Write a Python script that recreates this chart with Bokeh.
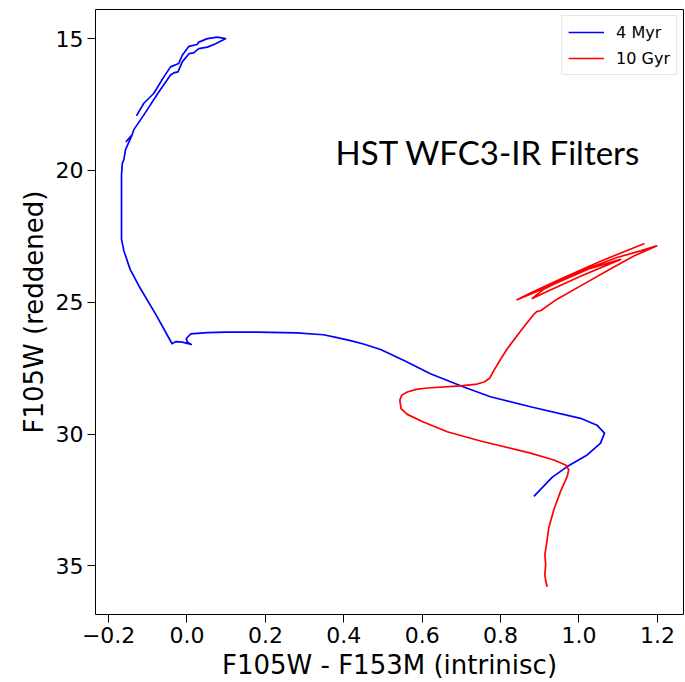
from bokeh.plotting import figure
from bokeh.models import Range1d, FixedTicker, Label, Legend, LegendItem
from bokeh.embed import file_html
from bokeh.resources import INLINE

# 4 Myr isochrone (color, magnitude)
myr4_color = [0.885, 0.932, 0.970, 1.021, 1.055, 1.065, 1.046, 1.004, 0.876, 0.774,
              0.706, 0.621, 0.555, 0.494, 0.450, 0.417, 0.380, 0.348, 0.280, 0.179,
              0.100, 0.052, 0.009, -0.002, 0.001,
              0.011, -0.012, -0.029, -0.038, -0.080, -0.123, -0.145, -0.161, -0.167, -0.167,
              -0.167, -0.165,
              -0.161, -0.157, -0.140, -0.155, -0.140, -0.136, -0.110, -0.072, -0.042, -0.034,
              -0.023, -0.012, 0.005, 0.017, 0.030, 0.052, 0.073, 0.098,
              0.077, 0.052, 0.030, 0.026, 0.005, -0.012, -0.021, -0.042, -0.059, -0.085,
              -0.110, -0.129]
myr4_mag = [32.36, 31.63, 31.23, 30.79, 30.34, 29.96, 29.66, 29.40, 28.96, 28.58,
            28.21, 27.71, 27.22, 26.79, 26.58, 26.45, 26.33, 26.23, 26.16, 26.13,
            26.13, 26.15, 26.20, 26.38, 26.51,
            26.60, 26.51, 26.49, 26.57, 25.45, 24.37, 23.75, 23.05, 22.61, 21.10,
            20.16, 19.73,
            19.59, 19.22, 18.65, 18.90, 18.65, 18.46, 17.89, 17.02, 16.38, 16.30,
            16.26, 15.88, 15.57, 15.54, 15.38, 15.32, 15.19, 15.00,
            14.94, 15.00, 15.13, 15.22, 15.29, 15.63, 15.94, 16.07, 16.45, 17.08,
            17.45, 17.93]

# 10 Gyr isochrone (color, magnitude)
gyr10_color = [0.919, 0.915, 0.913, 0.915, 0.913, 0.917, 0.923, 0.936, 0.953, 0.970,
               0.974, 0.966, 0.936, 0.876, 0.749, 0.664, 0.600, 0.562, 0.546, 0.543, 0.548,
               0.562, 0.585, 0.613, 0.698, 0.740, 0.758, 0.772, 0.783, 0.800, 0.817, 0.855,
               0.884, 0.893, 0.902,
               0.944, 1.012, 1.080, 1.140, 1.198,
               1.157, 1.097, 1.029, 0.970, 0.910, 0.881, 0.927, 1.004, 1.106, 1.029,
               0.953, 0.876, 0.842, 0.876, 0.953, 1.055, 1.167]
gyr10_mag = [35.79, 35.57, 35.32, 34.94, 34.56, 34.19, 33.55, 32.86, 32.17, 31.60,
             31.35, 31.17, 30.98, 30.72, 30.26, 29.91, 29.52, 29.25, 29.03, 28.71, 28.52,
             28.40, 28.30, 28.25, 28.17, 28.10, 28.02, 27.88, 27.58, 27.16, 26.76, 26.01,
             25.47, 25.34, 25.32,
             24.88, 24.31, 23.74, 23.24, 22.86,
             23.05, 23.30, 23.68, 24.06, 24.50, 24.85, 24.53, 24.01, 23.37, 23.71,
             24.20, 24.69, 24.90, 24.65, 24.12, 23.44, 22.77]

x_ticks = [-0.2, 0.0, 0.2, 0.4, 0.6, 0.8, 1.0, 1.2]
x_tick_labels = ["\u22120.2", "0.0", "0.2", "0.4", "0.6", "0.8", "1.0", "1.2"]
y_ticks = [15, 20, 25, 30, 35]

FONT = "DejaVu Sans"

p = figure(width=685, height=682,
           x_range=Range1d(-0.2334, 1.2666), y_range=Range1d(36.84, 13.894),
           output_backend="svg", toolbar_location=None)
p.min_border_left = 95
p.min_border_right = 2
p.min_border_top = 9
p.min_border_bottom = 65
p.background_fill_color = "white"
p.border_fill_color = "white"
p.outline_line_color = "black"
p.outline_line_width = 1
p.xgrid.visible = False
p.ygrid.visible = False

r1 = p.line(myr4_color, myr4_mag, line_color="#0000ff", line_width=1.7,
            line_join="round")
r2 = p.line(gyr10_color, gyr10_mag, line_color="#ff0000", line_width=1.7,
            line_join="round")

for ax in (p.xaxis[0], p.yaxis[0]):
    ax.axis_line_color = None
    ax.major_tick_in = 0
    ax.major_tick_out = 8
    ax.major_tick_line_color = "black"
    ax.minor_tick_line_color = None
    ax.major_label_text_font = FONT
    ax.major_label_text_font_size = "22px"
    ax.major_label_text_color = "black"
    ax.axis_label_text_font = FONT
    ax.axis_label_text_font_size = "26px"
    ax.axis_label_text_font_style = "normal"
    ax.axis_label_text_color = "black"
    ax.major_label_standoff = 4
    ax.axis_label_standoff = 4

p.xaxis.ticker = FixedTicker(ticks=x_ticks)
p.xaxis.major_label_overrides = {t: l for t, l in zip(x_ticks, x_tick_labels)}
p.yaxis.ticker = FixedTicker(ticks=y_ticks)
p.xaxis.axis_label = "F105W - F153M (intrinisc)"
p.yaxis.axis_label = "F105W (reddened)"

p.add_layout(Label(x=0.379, y=19.29, text="HST WFC3-IR Filters",
                   text_font="Lato", text_font_size="33px",
                   text_baseline="alphabetic", text_color="black"))

legend = Legend(items=[LegendItem(label="4 Myr", renderers=[r1]),
                       LegendItem(label="10 Gyr", renderers=[r2])],
                location="top_right")
legend.label_text_font = FONT
legend.label_text_font_size = "16px"
legend.label_text_color = "black"
legend.glyph_width = 36
legend.glyph_height = 20
legend.spacing = 6
legend.padding = 6
legend.margin = 6
legend.label_standoff = 12
legend.border_line_color = "#cccccc"
legend.border_line_width = 1
legend.background_fill_alpha = 0.8
p.add_layout(legend)

open("out.html", "w").write(file_html(p, INLINE))
